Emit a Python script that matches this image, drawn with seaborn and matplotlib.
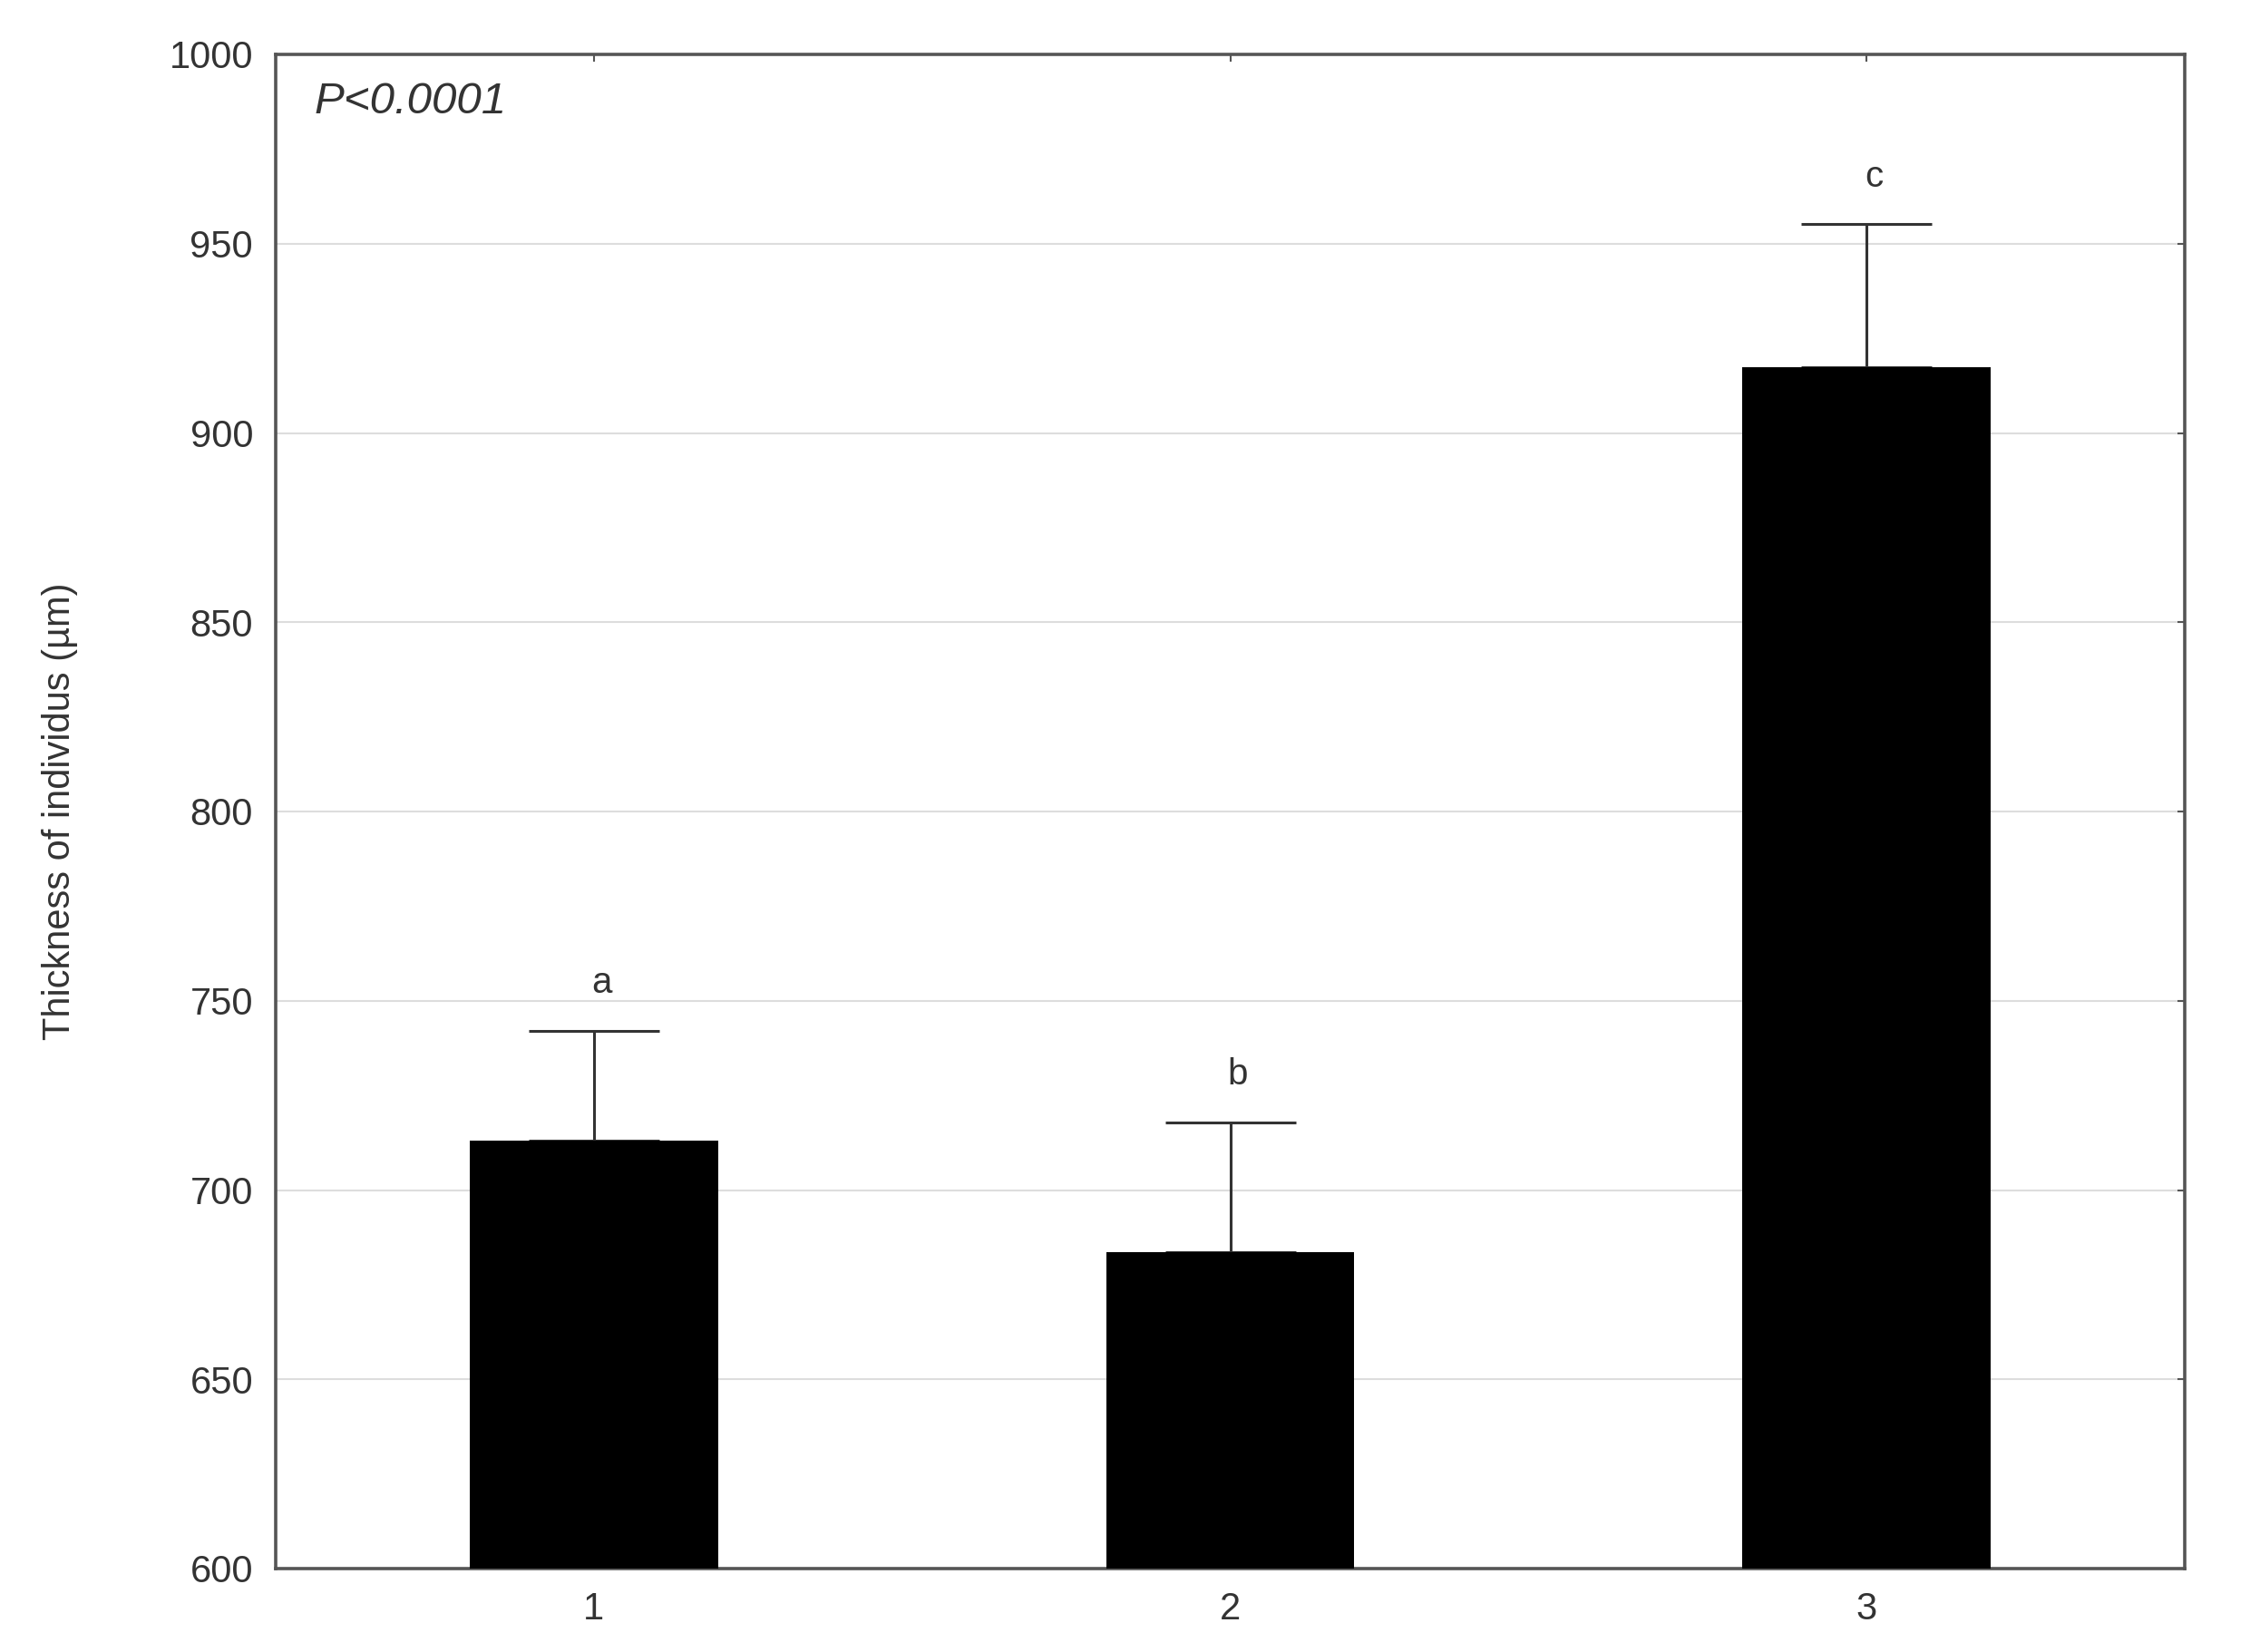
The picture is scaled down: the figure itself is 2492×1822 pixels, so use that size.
import numpy as np
import pandas as pd
import matplotlib
matplotlib.use("Agg")
import matplotlib.pyplot as plt
import seaborn as sns

# values
groups = ["1", "2", "3"]
means = [713, 683.6, 917.4]
upper_err = [29, 34.2, 37.7]
letters = ["a", "b", "c"]

df = pd.DataFrame({"group": groups, "thickness": means})

sns.set_theme(style="white")
plt.rcParams['font.family'] = ['Liberation Sans', 'DejaVu Sans']
text_col = '#333333'

fig = plt.figure(figsize=(24.92, 18.22), dpi=100)
ax = fig.add_axes([304 / 2492, 1 - 1730 / 1822, 2105 / 2492, 1670 / 1822])

sns.barplot(data=df, x="group", y="thickness", color="black", saturation=1,
            width=0.39, edgecolor="none", ax=ax, zorder=3)
# upper error bars only
ax.errorbar(x=np.arange(len(groups)), y=means,
            yerr=[np.zeros(len(groups)), upper_err],
            fmt='none', ecolor='#333333', elinewidth=2.2, capsize=52,
            capthick=2.2, zorder=2)

for i, (m, e, lab) in enumerate(zip(means, upper_err, letters)):
    ax.annotate(lab, (i, m + e), xytext=(6, 38), textcoords='offset points',
                ha='center', va='center', fontsize=29, color=text_col)

ax.text(0.02, 0.982, "P<0.0001", transform=ax.transAxes, fontsize=35.5,
        style='italic', color=text_col, ha='left', va='top')

ax.set_ylim(600, 1000)
ax.set_xlim(-0.5, 2.5)
ax.set_yticks(np.arange(600, 1001, 50))
ax.yaxis.grid(True, color='#dddddd', linewidth=1.5, zorder=0)
ax.set_axisbelow(True)
ax.set_xlabel("")
ax.set_ylabel("Thickness of individus (µm)", fontsize=30, color=text_col, labelpad=72)
ax.tick_params(axis='both', direction='in', length=6, width=1.5, colors='#555555',
               labelsize=30, labelcolor=text_col, top=True, right=True, pad=18)
for sp in ax.spines.values():
    sp.set_color('#555555')
    sp.set_linewidth(2.6)
    sp.set_visible(True)

fig.savefig("out.png", dpi=100)
